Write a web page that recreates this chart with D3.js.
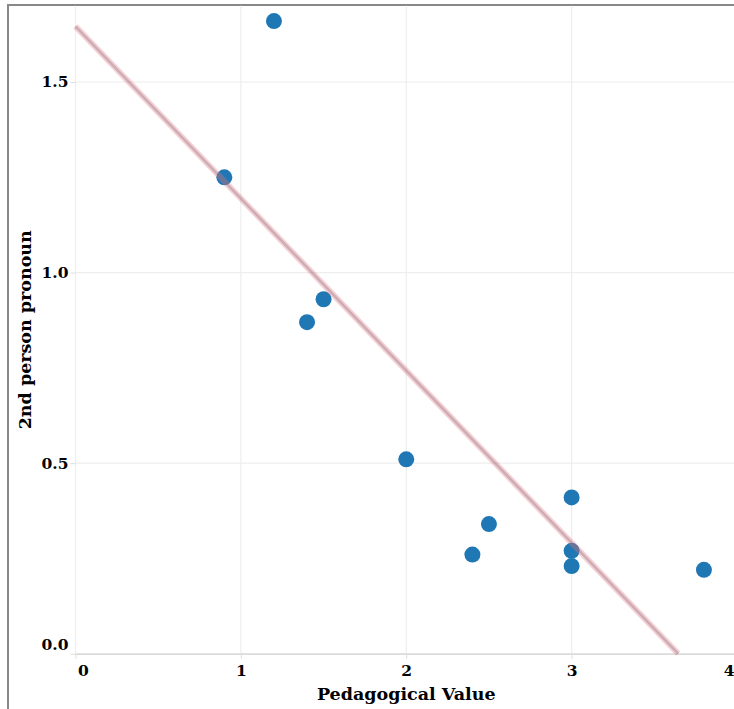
<!DOCTYPE html>
<html>
<head>
<meta charset="utf-8">
<script src="https://cdn.jsdelivr.net/npm/d3@7"></script>
<style>
  html, body { margin: 0; padding: 0; background: #fff; }
  svg { display: block; }
  text { font-family: "DejaVu Serif", Georgia, serif; font-weight: bold; fill: #000; }
</style>
</head>
<body>
<svg id="chart" width="734" height="709"></svg>
<script>
// ---- data ----
const pedagogicalValue = [1.2, 0.9, 1.5, 1.4, 2.0, 2.5, 2.4, 3.0, 3.0, 3.0, 3.8];
const secondPersonPronoun = [1.66, 1.25, 0.93, 0.87, 0.51, 0.34, 0.26, 0.41, 0.27, 0.23, 0.22];
const xTicks = [0, 1, 2, 3, 4];
const yTicks = [0, 0.5, 1.0, 1.5];
const xTitle = "Pedagogical Value";
const yTitle = "2nd person pronoun";

(function () {
const points = pedagogicalValue.map((x, i) => ({ x, y: secondPersonPronoun[i] }));

const svg = d3.select("#chart");
const pLeft = 75.5, pRight = 737, pTop = 5.8, pBottom = 653.7;

const x = d3.scaleLinear().domain([0, 4]).range([pLeft, pRight]);
const y = d3.scaleLinear().domain([0, 1.7]).range([pBottom, pTop]);

// outer frame
svg.append("line").attr("x1", 8).attr("x2", 8).attr("y1", 4).attr("y2", 709)
  .attr("stroke", "#888").attr("stroke-width", 2);
svg.append("line").attr("x1", 7).attr("x2", 734).attr("y1", 5).attr("y2", 5)
  .attr("stroke", "#888").attr("stroke-width", 2);

// grid
const grid = svg.append("g");
grid.selectAll(".gx").data(xTicks).join("line")
  .attr("x1", d => x(d)).attr("x2", d => x(d))
  .attr("y1", pTop).attr("y2", pBottom)
  .attr("stroke", "#eee").attr("stroke-width", 1.2);
grid.selectAll(".gy").data(yTicks).join("line")
  .attr("x1", pLeft).attr("x2", pRight)
  .attr("y1", d => y(d)).attr("y2", d => y(d))
  .attr("stroke", "#eee").attr("stroke-width", 1.2);

// x axis
const xAxis = svg.append("g").attr("transform", `translate(0,${pBottom})`)
  .call(d3.axisBottom(x).tickValues(xTicks).tickFormat(d3.format("d")).tickSize(5).tickSizeOuter(0));
xAxis.select(".domain").attr("stroke", "#ccc");
xAxis.selectAll(".tick line").attr("stroke", "#ddd");
xAxis.selectAll(".tick text")
  .attr("font-size", 15.5).attr("dy", "0.71em").attr("y", 11)
  .attr("text-anchor", (d, i, n) => i === 0 ? "start" : (i === n.length - 1 ? "end" : "middle"))
  .attr("dx", (d, i, n) => i === 0 ? 2 : (i === n.length - 1 ? -3 : 0));

// y axis
const yAxis = svg.append("g").attr("transform", `translate(${pLeft},0)`)
  .call(d3.axisLeft(y).tickValues(yTicks).tickFormat(d3.format(".1f")).tickSize(5).tickSizeOuter(0));
yAxis.select(".domain").remove();
yAxis.selectAll(".tick line").attr("stroke", "#ddd");
yAxis.selectAll(".tick text")
  .attr("font-size", 15.5).attr("x", -7)
  .attr("dy", (d, i) => i === 0 ? "-0.3em" : "0.32em");

// points
svg.append("g").selectAll("circle").data(points).join("circle")
  .attr("cx", d => x(d.x)).attr("cy", d => y(d.y)).attr("r", 8)
  .attr("fill", "#1f77b4");

// regression line (least squares)
const mx = d3.mean(points, d => d.x), my = d3.mean(points, d => d.y);
const slope = d3.sum(points, d => (d.x - mx) * (d.y - my)) / d3.sum(points, d => (d.x - mx) ** 2);
const intercept = my - slope * mx;
const xEnd = -intercept / slope;
const reg = [{ x: 0, y: intercept }, { x: xEnd, y: 0 }];
const lineGen = d3.line().x(d => x(d.x)).y(d => y(d.y));
const regG = svg.append("g");
regG.append("path").datum(reg).attr("d", lineGen)
  .attr("stroke", "rgba(225,120,135,0.35)").attr("stroke-width", 6).attr("fill", "none");
regG.append("path").datum(reg).attr("d", lineGen)
  .attr("stroke", "rgba(130,110,120,0.35)").attr("stroke-width", 2.5).attr("fill", "none");

// titles
svg.append("text").attr("x", (pLeft + pRight) / 2).attr("y", 700)
  .attr("text-anchor", "middle").attr("font-size", 17.5).text(xTitle);
svg.append("text").attr("transform", `translate(31,${(pTop + pBottom) / 2}) rotate(-90)`)
  .attr("text-anchor", "middle").attr("font-size", 17.5).text(yTitle);
})();
</script>
</body>
</html>
